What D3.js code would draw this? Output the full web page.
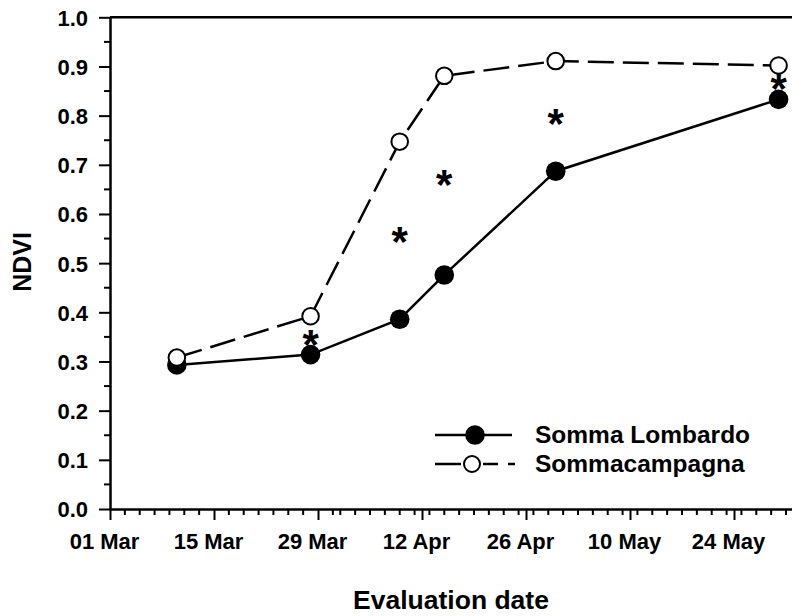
<!DOCTYPE html>
<html>
<head>
<meta charset="utf-8">
<script src="https://cdn.jsdelivr.net/npm/d3@7"></script>
<style>
  body { margin: 0; background: #fff; }
  text { font-family: "Liberation Sans", Arial, sans-serif; font-weight: bold; fill: #000; }
</style>
</head>
<body>
<script>
// evaluation dates and NDVI readings for the two sites
var dates = ["2013-03-10", "2013-03-28", "2013-04-09", "2013-04-15", "2013-04-30", "2013-05-30"];
var sommaLombardo = [0.293, 0.314, 0.386, 0.476, 0.687, 0.833];
var sommacampagna = [0.308, 0.392, 0.747, 0.881, 0.911, 0.902];
// significance marks (date, height)
var starDates = ["2013-03-28", "2013-04-09", "2013-04-15", "2013-04-30", "2013-05-30"];
var starValues = [0.348, 0.557, 0.673, 0.797, 0.868];
var xTickLabels = ["01 Mar", "15 Mar", "29 Mar", "12 Apr", "26 Apr", "10 May", "24 May"];
var yTicks = [0, 0.1, 0.2, 0.3, 0.4, 0.5, 0.6, 0.7, 0.8, 0.9, 1.0];

window.onload = function(){
    var w = 792, h = 616;
    var parse = d3.utcParse("%Y-%m-%d");
    var start = parse("2013-03-01"), end = parse("2013-06-07");

    var svg = d3.select("body").append("svg")
        .attr("width", w)
        .attr("height", h);

    var x = d3.scaleUtc()
        .domain([start, end])
        .range([110, 838]); // right part is cropped by the page edge

    var y = d3.scaleLinear()
        .domain([0, 1])
        .range([509, 17.3]);

    //minor ticks on y axis
    var yMinor = d3.range(0.05, 1, 0.1);
    svg.append("g").selectAll("line")
        .data(yMinor)
        .enter().append("line")
        .attr("x1", 104).attr("x2", 110)
        .attr("y1", function(d){ return y(d); })
        .attr("y2", function(d){ return y(d); })
        .attr("stroke", "#000").attr("stroke-width", 2);

    //y axis
    var yAxis = d3.axisLeft(y)
        .tickValues(yTicks)
        .tickFormat(d3.format(".1f"))
        .tickSize(11)
        .tickSizeOuter(0)
        .tickPadding(11);
    var gy = svg.append("g")
        .attr("transform", "translate(110,0)")
        .call(yAxis);
    gy.select(".domain").attr("stroke-width", 2.5);
    gy.selectAll(".tick line").attr("stroke-width", 2);
    gy.selectAll(".tick text")
        .style("font-size", "22px")
        .attr("dy", "0.36em");

    //minor ticks on x axis (every 2 days)
    var xMinor = d3.utcDay.every(2).range(start, d3.utcDay.offset(end, 1));
    svg.append("g").selectAll("line")
        .data(xMinor.filter(function(d){ return Math.round((d - start) / 864e5) % 14 !== 0; }))
        .enter().append("line")
        .attr("x1", function(d){ return x(d); })
        .attr("x2", function(d){ return x(d); })
        .attr("y1", 509).attr("y2", 515)
        .attr("stroke", "#000").attr("stroke-width", 2);

    //x axis with major ticks every 14 days
    var xMajor = xTickLabels.map(function(d, i){ return d3.utcDay.offset(start, 14 * i); });
    var xAxis = d3.axisBottom(x)
        .tickValues(xMajor)
        .tickFormat(function(d, i){ return xTickLabels[i]; })
        .tickSize(11)
        .tickSizeOuter(0)
        .tickPadding(11);
    var gx = svg.append("g")
        .attr("transform", "translate(0,509)")
        .call(xAxis);
    gx.select(".domain").attr("stroke-width", 2.5);
    gx.selectAll(".tick line").attr("stroke-width", 2);
    gx.selectAll(".tick text")
        .style("font-size", "22px")
        .attr("x", -6)
        .attr("dy", "0.8em");

    //top frame line
    svg.append("line")
        .attr("x1", x(start)).attr("x2", w)
        .attr("y1", y(1)).attr("y2", y(1))
        .attr("stroke", "#000").attr("stroke-width", 2.5);

    var pts1 = dates.map(function(d, i){ return {date: parse(d), v: sommaLombardo[i]}; });
    var pts2 = dates.map(function(d, i){ return {date: parse(d), v: sommacampagna[i]}; });

    var line = d3.line()
        .x(function(d){ return x(d.date); })
        .y(function(d){ return y(d.v); });

    svg.append("path")
        .datum(pts1)
        .attr("d", line)
        .attr("fill", "none")
        .attr("stroke", "#000")
        .attr("stroke-width", 2.5);

    svg.append("path")
        .datum(pts2)
        .attr("d", line)
        .attr("fill", "none")
        .attr("stroke", "#000")
        .attr("stroke-width", 2.5)
        .attr("stroke-dasharray", "26,9");

    //asterisks
    svg.selectAll(".star")
        .data(starDates)
        .enter().append("text")
        .attr("class", "star")
        .attr("text-anchor", "middle")
        .attr("x", function(d){ return x(parse(d)); })
        .attr("y", function(d, i){ return y(starValues[i]); })
        .attr("dy", "0.5em")
        .style("font-size", "42px")
        .text("*");

    //markers
    svg.selectAll(".filled")
        .data(pts1)
        .enter().append("circle")
        .attr("class", "filled")
        .attr("cx", function(d){ return x(d.date); })
        .attr("cy", function(d){ return y(d.v); })
        .attr("r", 9.8)
        .attr("fill", "#000");

    svg.selectAll(".open")
        .data(pts2)
        .enter().append("circle")
        .attr("class", "open")
        .attr("cx", function(d){ return x(d.date); })
        .attr("cy", function(d){ return y(d.v); })
        .attr("r", 8.3)
        .attr("fill", "#fff")
        .attr("stroke", "#000")
        .attr("stroke-width", 2);

    //legend
    var legend = svg.append("g").attr("class", "legend");
    legend.append("line")
        .attr("x1", 435).attr("x2", 512)
        .attr("y1", 435).attr("y2", 435)
        .attr("stroke", "#000").attr("stroke-width", 2.5);
    legend.append("circle")
        .attr("cx", 475).attr("cy", 435).attr("r", 9.8)
        .attr("fill", "#000");
    legend.append("text")
        .attr("x", 535).attr("y", 443)
        .style("font-size", "24.5px")
        .text("Somma Lombardo");

    legend.append("line")
        .attr("x1", 435).attr("x2", 515)
        .attr("y1", 464).attr("y2", 464)
        .attr("stroke", "#000").attr("stroke-width", 2.5)
        .attr("stroke-dasharray", "26,22,15,10,7,10");
    legend.append("circle")
        .attr("cx", 472).attr("cy", 464).attr("r", 8)
        .attr("fill", "#fff")
        .attr("stroke", "#000").attr("stroke-width", 2);
    legend.append("text")
        .attr("x", 535).attr("y", 472)
        .style("font-size", "24.5px")
        .text("Sommacampagna");

    //axis titles
    svg.append("text")
        .attr("text-anchor", "middle")
        .attr("x", 451)
        .attr("y", 609)
        .style("font-size", "26.5px")
        .text("Evaluation date");

    svg.append("text")
        .attr("text-anchor", "middle")
        .attr("transform", "translate(31,262) rotate(-90)")
        .style("font-size", "25px")
        .text("NDVI");
};
</script>
</body>
</html>
